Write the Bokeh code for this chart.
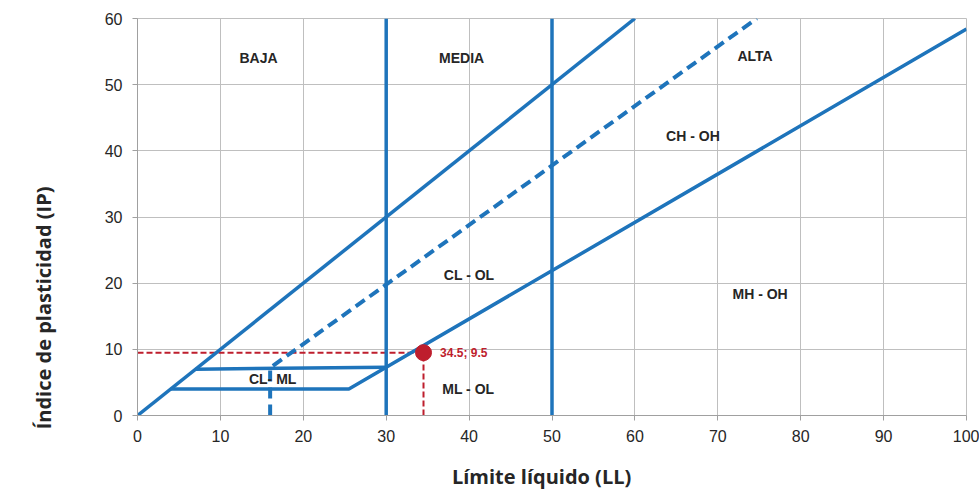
from bokeh.plotting import figure
from bokeh.models import Range1d, FixedTicker, ColumnDataSource
from bokeh.embed import file_html
from bokeh.resources import INLINE
from bokeh.core.properties import value

# ---- data ----
# Line IP = LL
diag_x = [0, 60]
diag_y = [0, 60]
# A-line with horizontal part at IP=4
aline_x = [4, 25.5, 100]
aline_y = [4, 4, 58.4]
# horizontal at IP=7
h7_x = [7, 30]
h7_y = [7, 7.3]
# U-line (dashed) with vertical part at LL=16
uline_x = [16, 16, 74.7]
uline_y = [0, 7.2, 60]
# vertical boundaries
v_x = [30, 50]
# sample point
pt_x = [34.5]
pt_y = [9.5]
pt_label = ["34.5; 9.5"]
# zone labels
zone_text = ["BAJA", "MEDIA", "ALTA", "CH - OH", "CL - OL", "MH - OH", "ML - OL", "CL- ML"]
zone_x = [14.6, 39.1, 74.5, 67.0, 40.0, 75.1, 39.9, 16.3]
zone_y = [54.1, 54.1, 54.3, 42.3, 21.2, 18.4, 4.0, 5.5]
x_ticks = [0, 10, 20, 30, 40, 50, 60, 70, 80, 90, 100]
y_ticks = [0, 10, 20, 30, 40, 50, 60]
x_title = "Límite líquido (LL)"
y_title = "Índice de plasticidad (IP)"

BLUE = "#1e74bb"
RED = "#be1e2d"
TXT = "#262626"
NB = "\u00a0"

p = figure(width=979, height=492, output_backend="svg", toolbar_location=None,
           x_range=Range1d(0, 100), y_range=Range1d(0, 60),
           min_border_left=137, min_border_right=13, min_border_top=18, min_border_bottom=77)
p.outline_line_color = "#bfbfbf"
p.background_fill_color = "white"
p.border_fill_color = "white"

for ax, ticks in ((p.xaxis[0], x_ticks), (p.yaxis[0], y_ticks)):
    ax.ticker = FixedTicker(ticks=ticks)
    ax.minor_tick_line_color = None
    ax.major_tick_in = 0
    ax.major_tick_out = 5
    ax.major_tick_line_color = "#a0a0a0"
    ax.axis_line_color = "#a0a0a0"
    ax.major_label_text_font = "Liberation Sans"
    ax.major_label_text_font_size = "16px"
    ax.major_label_text_color = TXT
    ax.axis_label_text_font = "Open Sans"
    ax.axis_label_text_font_style = "bold"
    ax.axis_label_text_font_size = "20px"
    ax.axis_label_text_color = TXT
p.xaxis.major_label_standoff = 9
p.yaxis.major_label_standoff = 10
p.xaxis.axis_label = x_title + NB * 4
p.yaxis.axis_label = y_title + NB * 35
p.xaxis.axis_label_standoff = 18
p.yaxis.axis_label_standoff = 45

p.grid.grid_line_color = "#bfbfbf"
p.grid.grid_line_width = 1
p.xgrid.ticker = FixedTicker(ticks=x_ticks)
p.ygrid.ticker = FixedTicker(ticks=y_ticks)

# red reference lines
p.line([0, pt_x[0]], [pt_y[0], pt_y[0]], line_color=RED, line_width=2, line_dash="6 3")
p.line([pt_x[0], pt_x[0]], [0, pt_y[0]], line_color=RED, line_width=2, line_dash="6 3")

# blue lines
p.line(diag_x, diag_y, line_color=BLUE, line_width=3.5)
p.line(aline_x, aline_y, line_color=BLUE, line_width=3.5)
p.line(h7_x, h7_y, line_color=BLUE, line_width=3.5)
p.line(uline_x, uline_y, line_color=BLUE, line_width=4, line_dash="11 6")
for vx in v_x:
    p.line([vx, vx], [0, 60], line_color=BLUE, line_width=3.5)

# point
p.scatter(pt_x, pt_y, size=16, fill_color=RED, line_color=RED)
p.text(x=[pt_x[0] + 2.0], y=[pt_y[0] - 0.1], text=pt_label, text_font=value("Liberation Sans"),
       text_font_style="bold", text_font_size="12px", text_color=RED,
       text_align="left", text_baseline="middle")

src = ColumnDataSource(dict(x=zone_x, y=zone_y, t=zone_text))
p.text(x="x", y="y", text="t", source=src, text_font=value("Liberation Sans"),
       text_font_style="bold", text_font_size="14px", text_color=TXT,
       text_align="center", text_baseline="middle")

open("out.html", "w").write(file_html(p, INLINE))
